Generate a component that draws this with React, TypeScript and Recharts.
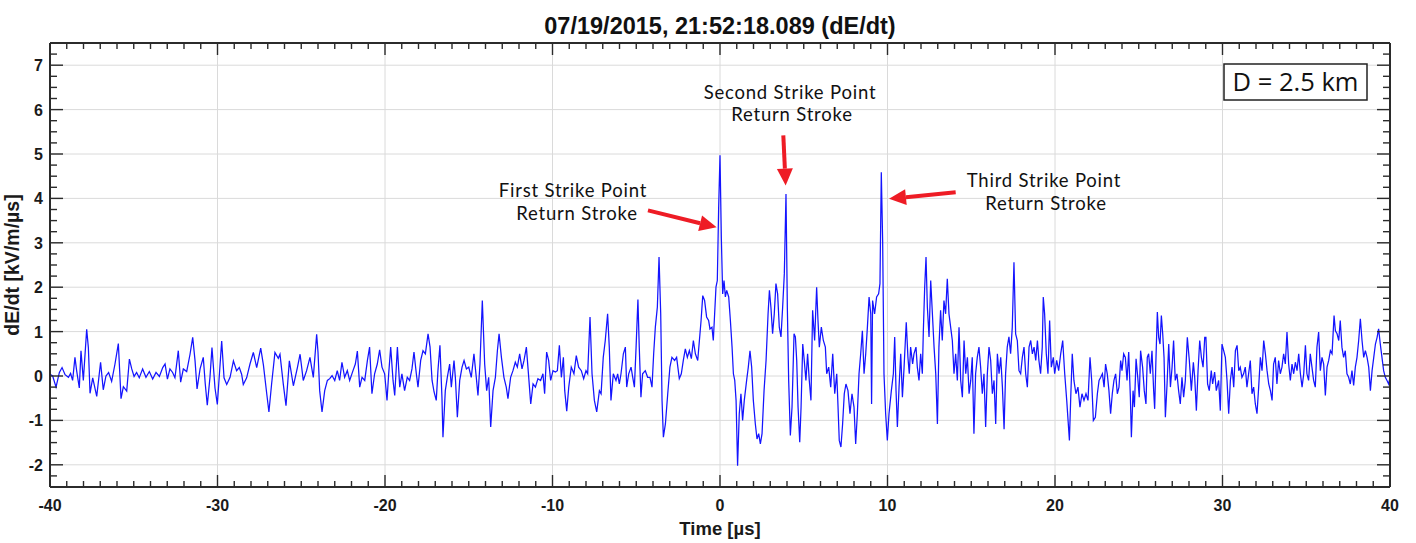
import { LineChart, Line, XAxis, YAxis, CartesianGrid, ReferenceLine } from "recharts"

// dE/dt waveform, [time µs, kV/m/µs], in five windows
const WIN_A: [number, number][] = [
  [-40, 0.04], [-39.84, 0], [-39.64, -0.25], [-39.44, 0.08], [-39.28, 0.19], [-39.1, 0.03], [-38.9, -0.03],
  [-38.77, 0.06], [-38.65, -0.1], [-38.51, 0.42], [-38.41, 0.12], [-38.25, -0.27], [-38.15, 0.57], [-38.01, -0.1],
  [-37.81, 1.05], [-37.71, 0.64], [-37.61, -0.39], [-37.45, -0.04], [-37.21, -0.46], [-36.98, 0.31], [-36.82, -0.31],
  [-36.66, 0], [-36.5, 0.08], [-36.32, -0.12], [-36.12, 0.27], [-35.92, 0.73], [-35.76, -0.51], [-35.62, -0.24],
  [-35.42, -0.34], [-35.26, 0.38], [-35.12, 0.16], [-34.98, -0.01], [-34.83, 0.08], [-34.67, -0.04], [-34.47, 0.16],
  [-34.27, -0.03], [-34.07, 0.1], [-33.87, -0.07], [-33.67, 0.08], [-33.47, -0.01], [-33.27, 0.19], [-33.13, 0.27],
  [-32.99, -0.07], [-32.84, 0.16], [-32.68, 0.08], [-32.54, -0.04], [-32.34, 0.57], [-32.2, -0.14], [-32.04, 0.16],
  [-31.84, 0.1], [-31.64, 0.49], [-31.48, 0.87], [-31.34, 0.34], [-31.22, -0.29], [-31.04, 0.16], [-30.85, 0.42],
  [-30.73, -0.18], [-30.61, -0.66], [-30.45, -0.03], [-30.33, 0.64], [-30.15, -0.27], [-30.01, -0.64], [-29.75, 0.79],
  [-29.61, -0.04], [-29.45, -0.19], [-29.25, -0.03], [-29.05, 0.34], [-28.86, 0.12], [-28.7, 0.19], [-28.56, 0.04],
  [-28.46, -0.19], [-28.26, -0.04], [-28.06, 0.27], [-27.86, 0.53], [-27.66, 0.19], [-27.42, 0.63], [-27.26, 0.25],
  [-27.06, -0.4], [-26.93, -0.81], [-26.77, -0.18], [-26.57, 0.53], [-26.37, 0.4], [-26.27, 0.49], [-26.07, -0.19],
  [-25.91, -0.67], [-25.71, 0.34], [-25.47, -0.22], [-25.23, 0.19], [-25.07, 0.49], [-24.88, -0.1], [-24.68, 0.12],
  [-24.48, 0.42], [-24.28, -0.03], [-24.08, 0.94],
]

const WIN_B: [number, number][] = [
  [-24.0, 0.54], [-23.9, -0.33], [-23.76, -0.81], [-23.6, -0.33], [-23.44, -0.1], [-23.3, -0.06], [-23.16, 0.01],
  [-23.0, -0.1], [-22.85, 0.12], [-22.71, -0.1], [-22.57, 0.31], [-22.41, -0.03], [-22.25, 0.12], [-22.11, -0.1],
  [-21.91, 0.12], [-21.77, 0.27], [-21.65, 0.56], [-21.51, -0.25], [-21.37, -0.03], [-21.21, -0.1], [-21.05, 0.35],
  [-20.92, 0.65], [-20.78, -0.4], [-20.62, 0.05], [-20.46, 0.27], [-20.32, 0.59], [-20.18, 0.2], [-20.02, 0.05],
  [-19.88, -0.55], [-19.78, 0.05], [-19.66, 0.65], [-19.52, -0.1], [-19.42, -0.44], [-19.26, 0.65], [-19.12, -0.25],
  [-18.99, 0.05], [-18.83, -0.33], [-18.67, -0.03], [-18.53, -0.1], [-18.39, 0.16], [-18.27, 0.54], [-18.13, 0.05],
  [-18.03, -0.25], [-17.87, 0.35], [-17.73, 0.57], [-17.59, 0.5], [-17.43, 0.95], [-17.31, 0.65], [-17.19, -0.1],
  [-17.07, -0.36], [-16.94, -0.55], [-16.84, 0.12], [-16.72, 0.69], [-16.6, -0.48], [-16.54, -1.38], [-16.4, -0.33],
  [-16.28, -0.03], [-16.14, 0.27], [-16.04, -0.25], [-15.88, 0.35], [-15.8, -0.03], [-15.68, -0.93], [-15.54, -0.1],
  [-15.4, 0.2], [-15.28, 0.35], [-15.14, 0.16], [-15.0, 0.2], [-14.85, -0.03], [-14.69, 0.5], [-14.55, -0.03],
  [-14.45, -0.44], [-14.33, 0.27], [-14.19, 1.7], [-14.05, 0.27], [-13.93, -0.33], [-13.81, -0.03], [-13.69, -1.15],
  [-13.55, -0.33], [-13.41, -0.03], [-13.29, 0.57], [-13.19, 0.95], [-13.05, 0.42], [-12.9, -0.03], [-12.76, -0.25],
  [-12.66, -0.51], [-12.5, -0.03], [-12.36, 0.12], [-12.22, 0.31], [-12.1, 0.2], [-11.96, 0.5], [-11.82, 0.16],
  [-11.7, 0.35], [-11.56, 0.65], [-11.42, -0.03], [-11.3, -0.63], [-11.16, -0.18], [-11.02, -0.25], [-10.87, -0.06],
  [-10.71, -0.1], [-10.57, 0.05], [-10.47, -0.4], [-10.35, 0.54], [-10.23, 0.35], [-10.11, -0.1], [-9.97, 0.12],
  [-9.83, 0.09], [-9.71, 0.12], [-9.59, 0.69], [-9.47, -0.03], [-9.35, 0.42], [-9.27, -0.33], [-9.15, -0.79],
  [-9.03, -0.25], [-8.88, 0.2], [-8.72, 0.05], [-8.58, 0.46], [-8.44, 0.2], [-8.28, 0.12], [-8.14, -0.06],
]

const WIN_C: [number, number][] = [
  [-8.0, 0.12], [-7.9, 0.05], [-7.76, 1.33], [-7.64, 0.05], [-7.5, -0.55], [-7.36, -0.81], [-7.2, -0.33],
  [-7.1, -0.4], [-6.97, 0.42], [-6.85, 0.8], [-6.71, 1.4], [-6.61, 0.65], [-6.51, -0.55], [-6.37, 0.05],
  [-6.21, -0.1], [-6.11, 0.05], [-6.01, -0.18], [-5.91, 0.05], [-5.77, 0.5], [-5.65, 0.65], [-5.57, -0.25],
  [-5.45, 0.05], [-5.31, 0.2], [-5.21, -0.03], [-5.11, -0.25], [-5.01, 0.65], [-4.9, 1.72], [-4.82, 0.65],
  [-4.72, -0.48], [-4.62, 0.05], [-4.46, 0.12], [-4.32, -0.03], [-4.18, -0.03], [-4.06, -0.25], [-3.96, 0.5],
  [-3.86, 1.1], [-3.74, 1.55], [-3.64, 2.68], [-3.54, 1.4], [-3.46, -0.55], [-3.38, -1.38], [-3.26, -1.08],
  [-3.12, -0.4], [-2.99, 0.2], [-2.87, 0.42], [-2.71, 0.35], [-2.59, 0.42], [-2.43, -0.06], [-2.31, 0.05],
  [-2.19, 0.35], [-2.07, 0.61], [-1.95, 0.42], [-1.83, 0.57], [-1.71, 0.39], [-1.59, 0.8], [-1.47, 0.5],
  [-1.33, 0.35], [-1.23, 0.8], [-1.13, 1.25], [-1.03, 1.81], [-0.92, 1.7], [-0.8, 1.33], [-0.68, 1.25],
  [-0.6, 1.06], [-0.48, 1.1], [-0.4, 0.8], [-0.32, 1.4], [-0.24, 2.0], [-0.16, 2.15], [-0.08, 3.8],
  [0.0, 4.97], [0.08, 3.1], [0.16, 1.85], [0.24, 2.15], [0.32, 1.78], [0.4, 1.93], [0.52, 1.78],
  [0.62, 1.25], [0.72, 0.65], [0.8, 0.05], [0.88, -0.1], [0.96, -0.55], [1.05, -2.02], [1.15, -0.85],
  [1.25, -0.4], [1.35, -1.0], [1.45, -0.55], [1.59, -0.1], [1.69, 0.2], [1.79, 0.57], [1.89, 0.2],
  [1.99, -0.55], [2.11, -1.08], [2.21, -1.42], [2.31, -1.3], [2.41, -1.53], [2.51, -1.3], [2.63, -0.33],
  [2.75, 0.35], [2.87, 1.4], [2.95, 1.93], [3.04, 1.55], [3.14, 0.95], [3.24, 1.4], [3.34, 2.08],
  [3.44, 1.85], [3.54, 1.1], [3.64, 0.88], [3.74, 1.55], [3.84, 2.3], [3.94, 4.1], [4.02, 1.55],
  [4.1, -0.1], [4.2, -1.34], [4.3, -0.7], [4.42, 0.95], [4.5, 0.88], [4.58, 0.35], [4.66, -0.7],
  [4.76, -1.49], [4.84, -0.7], [4.94, 0.72], [5.03, 0.35], [5.13, -0.1], [5.23, 0.5], [5.33, -0.1],
  [5.43, -0.55], [5.53, 1.48], [5.65, 0.8], [5.77, 2.0], [5.85, 1.25], [5.93, 0.65], [6.05, 1.1],
  [6.17, 0.8], [6.29, 0.65], [6.37, 0.05], [6.49, 0.2], [6.61, -0.25], [6.73, 0.5], [6.85, -0.4],
  [6.97, 0.05], [7.04, -0.63], [7.12, -1.45], [7.22, -1.6], [7.32, -1.08], [7.42, -0.4], [7.52, -0.18],
  [7.64, -0.33], [7.76, -0.85], [7.88, -0.4],
]

const WIN_D: [number, number][] = [
  [8.0, -0.7], [8.1, -1.53], [8.2, -0.85], [8.3, 0.05], [8.4, 0.5], [8.5, 1.02], [8.6, 0.05], [8.7, 0.5],
  [8.8, 1.1], [8.9, 1.78], [9.0, 1.4], [9.05, -0.63], [9.11, 1.7], [9.23, 1.4], [9.35, 1.78], [9.47, 1.85],
  [9.55, 2.08], [9.63, 4.59], [9.71, 3.05], [9.79, 0.05], [9.89, -0.85], [9.99, -1.45], [10.09, -0.85],
  [10.23, -0.33], [10.35, 0.05], [10.43, 0.88], [10.51, -0.33], [10.59, -1.15], [10.69, -0.25], [10.79, 0.5],
  [10.89, -0.48], [10.99, 0.2], [11.12, 1.21], [11.22, 0.42], [11.3, 0.05], [11.38, 0.65], [11.5, 0.27],
  [11.58, 0.5], [11.7, 0.65], [11.78, 0.2], [11.88, -0.1], [11.98, 0.5], [12.08, 0.05], [12.14, 1.02],
  [12.22, 2.0], [12.3, 2.68], [12.38, 1.55], [12.48, 0.88], [12.58, 2.15], [12.68, 1.4], [12.78, 0.65],
  [12.88, 0.05], [12.98, -1.08], [13.07, 0.65], [13.17, 1.48], [13.27, 0.8], [13.37, 1.7], [13.47, 1.4],
  [13.57, 2.19], [13.67, 1.4], [13.77, 1.1], [13.87, 0.8], [13.97, 0.05], [14.07, 0.5], [14.17, -0.1],
  [14.27, 1.1], [14.37, -0.1], [14.47, -0.48], [14.57, 0.8], [14.67, 0.05], [14.77, 0.42], [14.87, -0.4],
  [14.97, -0.1], [15.06, 0.42], [15.16, -1.3], [15.26, 0.05], [15.36, 0.42], [15.46, 0.65], [15.56, 0.2],
  [15.66, -0.4], [15.76, 0.05], [15.86, -1.15], [15.96, 0.05], [16.06, 0.65], [16.16, 0.35], [16.26, -0.4],
  [16.36, -0.1], [16.46, -1.08], [16.56, 0.5], [16.66, 0.05], [16.76, 0.42], [16.86, -0.25], [16.96, -1.2],
  [17.05, 0.05], [17.15, 0.65], [17.25, 0.88], [17.35, 0.5], [17.45, 1.1], [17.55, 2.56], [17.65, 0.95],
  [17.75, 0.8], [17.85, 0.12], [17.95, 0.05], [18.05, 0.42], [18.15, 0.65], [18.25, 0.05], [18.35, -0.25],
  [18.45, 0.65], [18.55, 0.8], [18.65, 0.5], [18.75, 0.65], [18.85, 0.35], [18.95, 0.8], [19.04, 0.35],
  [19.14, 0.05], [19.24, 0.65], [19.3, 1.78], [19.38, 1.4], [19.48, 0.5], [19.58, 0.05], [19.68, 1.25],
  [19.78, 0.2], [19.9, 0.42], [19.98, 0.05], [20.1, 0.35], [20.22, 0.12], [20.34, 0.5], [20.46, 0.8],
  [20.58, 0.05], [20.7, -0.55], [20.78, -1.0], [20.86, -1.45], [20.94, -0.48], [21.03, 0.5], [21.13, -0.1],
  [21.25, -0.4], [21.37, -0.25], [21.49, -0.7], [21.61, -0.4], [21.73, -0.55], [21.85, -0.4], [21.97, -0.55],
  [22.09, 0.42], [22.19, -0.1], [22.29, -1.0], [22.41, -0.93], [22.53, -0.4], [22.63, -0.1], [22.73, -0.03],
  [22.83, 0.05], [22.93, -0.25], [23.02, 0.27], [23.12, 0.05], [23.22, -0.33], [23.32, -0.85], [23.42, -0.4],
  [23.52, -0.1], [23.62, 0.05], [23.72, -0.4], [23.82, -0.25], [23.92, 0.35],
]

const WIN_E: [number, number][] = [
  [24.0, 0.12], [24.1, 0.5], [24.2, 0.42], [24.3, -0.1], [24.4, 0.54], [24.5, -0.48], [24.56, -1.38],
  [24.66, -0.33], [24.74, -0.7], [24.84, 0.39], [24.94, -0.03], [25.03, -0.48], [25.11, 0.57], [25.23, 0.2],
  [25.33, -0.33], [25.43, -0.63], [25.51, 0.42], [25.59, 0.5], [25.69, 0.05], [25.79, 0.57], [25.89, -0.33],
  [25.95, -0.74], [26.03, 0.42], [26.11, 1.44], [26.19, 0.87], [26.27, 0.72], [26.35, 1.36], [26.43, 0.95],
  [26.51, 0.42], [26.59, -0.93], [26.69, -0.18], [26.79, 0.72], [26.89, -0.25], [26.99, 0.2], [27.08, 0.8],
  [27.18, -0.1], [27.28, 0.05], [27.38, -0.33], [27.48, -0.63], [27.58, -0.03], [27.68, -0.48], [27.78, -0.1],
  [27.9, 0.87], [28.02, 0.35], [28.14, -0.33], [28.26, 0.31], [28.34, -0.03], [28.44, -0.78], [28.54, 0.12],
  [28.64, 0.8], [28.74, 0.42], [28.84, 0.2], [28.94, 0.87], [29.01, 0.87], [29.11, -0.18], [29.21, -0.33],
  [29.33, 0.12], [29.41, -0.18], [29.53, 0.09], [29.63, -0.33], [29.77, -0.1], [29.87, -0.78], [29.97, 0.72],
  [30.07, 0.57], [30.17, 0.42], [30.27, -0.1], [30.37, -0.85], [30.47, -0.1], [30.57, 0.2], [30.67, -0.25],
  [30.77, 0.57], [30.87, 0.69], [30.97, 0.12], [31.06, 0.2], [31.16, -0.03], [31.26, 0.05], [31.36, 0.2],
  [31.46, -0.25], [31.56, 0.05], [31.66, 0.35], [31.76, -0.4], [31.86, -0.25], [31.96, -0.63], [32.06, -0.85],
  [32.16, -0.25], [32.26, 0.42], [32.36, 0.12], [32.46, 0.8], [32.56, 0.5], [32.66, 0.12], [32.76, -0.18],
  [32.86, -0.33], [32.96, -0.55], [33.05, 0.27], [33.15, 0.42], [33.25, -0.18], [33.35, 0.35], [33.45, 0.05],
  [33.55, 0.2], [33.65, 0.5], [33.75, 0.27], [33.85, 0.99], [33.95, 0.27], [34.05, -0.1], [34.15, 0.27],
  [34.25, 0.05], [34.35, 0.31], [34.45, 0.12], [34.55, 0.5], [34.65, 0.05], [34.75, -0.25], [34.85, 0.05],
  [34.95, 0.69], [35.04, 0.05], [35.14, -0.1], [35.24, 0.5], [35.34, 0.2], [35.44, -0.1], [35.54, -0.25],
  [35.64, 0.65], [35.74, 0.99], [35.84, 0.12], [35.94, 0.42], [36.04, 0.27], [36.14, -0.44], [36.24, 0.2],
  [36.34, 0.35], [36.44, 0.57], [36.54, 0.5], [36.66, 1.36], [36.74, 1.02], [36.84, 0.95], [36.94, 0.8],
  [37.03, 1.25], [37.13, 0.65], [37.23, 0.42], [37.33, 0.57], [37.43, 0.05], [37.53, -0.03], [37.63, -0.18],
  [37.73, 0.12], [37.83, -0.21], [37.93, 0.2], [38.03, 0.42], [38.13, 0.8], [38.23, 1.29], [38.33, 0.8],
  [38.43, 0.42], [38.53, 0.57], [38.63, 0.42], [38.73, 0.2], [38.83, -0.33], [38.93, 0.12], [39.03, 0.42],
  [39.13, 0.72], [39.23, 0.87], [39.32, 1.06], [39.42, 0.72], [39.52, 0.42], [39.62, 0.12], [39.72, -0.03],
  [39.82, -0.1], [39.92, -0.18], [40.0, -0.03],
]

const X_TICKS = Array.from({ length: 81 }, (_, i) => i - 40)
const Y_TICKS = Array.from({ length: 41 }, (_, i) => -2.5 + i * 0.25)
const X_GRID = [-30, -20, -10, 0, 10, 20, 30]
const Y_GRID = [-2, -1, 0, 1, 2, 3, 4, 5, 6, 7]

// arrows: [tail, head] in data coords
const ARROWS: [number, number, number, number][] = [
  [-4.3, 3.73, -0.2, 3.35],
  [3.78, 5.42, 3.92, 4.29],
  [14.07, 4.14, 10.09, 3.99],
]

const data = [...WIN_A, ...WIN_B, ...WIN_C, ...WIN_D, ...WIN_E].map(([t, v]) => ({ t, v }))

const AX = "#2b2b2b"
const RED = "#ee1c25"
const TICK_FONT = { fontFamily: "Liberation Sans, Arial, sans-serif", fontWeight: 700, fontSize: 16, fill: "#1a1a1a" }

function BottomTick(props: any) {
  const { x, y, payload } = props
  const major = payload.value % 10 === 0
  return (
    <g>
      <line x1={x} x2={x} y1={y} y2={y - (major ? 12 : 6)} stroke={AX} strokeWidth={1.4} />
      {major && (
        <text x={x} y={y + 24} textAnchor="middle" {...TICK_FONT}>
          {payload.value}
        </text>
      )}
    </g>
  )
}

function TopTick(props: any) {
  const { x, y, payload } = props
  const major = payload.value % 10 === 0
  return <line x1={x} x2={x} y1={y} y2={y + (major ? 12 : 6)} stroke={AX} strokeWidth={1.4} />
}

function LeftTick(props: any) {
  const { x, y, payload } = props
  const major = Number.isInteger(payload.value)
  return (
    <g>
      <line x1={x} x2={x + (major ? 13 : 7)} y1={y} y2={y} stroke={AX} strokeWidth={1.4} />
      {major && (
        <text x={x - 7} y={y + 6} textAnchor="end" {...TICK_FONT}>
          {payload.value}
        </text>
      )}
    </g>
  )
}

function RightTick(props: any) {
  const { x, y, payload } = props
  const major = Number.isInteger(payload.value)
  return <line x1={x} x2={x - (major ? 13 : 7)} y1={y} y2={y} stroke={AX} strokeWidth={1.4} />
}

function Arrow(p: any) {
  const { x1, y1, x2, y2 } = p
  const dx = x2 - x1
  const dy = y2 - y1
  const len = Math.hypot(dx, dy) || 1
  const ux = dx / len
  const uy = dy / len
  const hl = 17
  const hw = 8
  const bx = x2 - ux * hl
  const by = y2 - uy * hl
  return (
    <g>
      <line x1={x1} y1={y1} x2={bx} y2={by} stroke={RED} strokeWidth={4} />
      <polygon points={`${x2},${y2} ${bx - uy * hw},${by + ux * hw} ${bx + uy * hw},${by - ux * hw}`} fill={RED} />
    </g>
  )
}

const NOTE = {
  fontFamily: "Lato, Open Sans, sans-serif",
  fontSize: 18.5,
  letterSpacing: 0.8,
  fill: "#111",
  textAnchor: "middle" as const,
}

// two-line callout
function Note({ x, y, dx2 = 0, lines }: { x: number; y: number; dx2?: number; lines: [string, string] }) {
  return (
    <text {...NOTE}>
      <tspan x={x} y={y}>{lines[0]}</tspan>
      <tspan x={x + dx2} y={y + 22.5}>{lines[1]}</tspan>
    </text>
  )
}

export default function App() {
  return (
    <div style={{ position: "absolute", left: 0, top: 0, width: 1416, height: 543, background: "#fff" }}>
      <LineChart width={1416} height={543} data={data} margin={{ top: 42, right: 25, bottom: 0, left: 0 }}>
        <CartesianGrid
          xAxisId="b"
          yAxisId="l"
          stroke="#dadada"
          verticalValues={X_GRID}
          horizontalValues={Y_GRID}
        />
        <XAxis
          xAxisId="b"
          type="number"
          dataKey="t"
          domain={[-40, 40]}
          ticks={X_TICKS}
          interval={0}
          tickSize={0}
          tickMargin={0}
          tick={<BottomTick />}
          height={56}
          axisLine={{ stroke: AX, strokeWidth: 2 }}
          allowDataOverflow
          label={{
            content: (p: any) => (
              <text
                x={p.viewBox.x + p.viewBox.width / 2}
                y={p.viewBox.y + 48}
                textAnchor="middle"
                {...TICK_FONT}
                fontSize={18.5}
              >
                Time [µs]
              </text>
            ),
          }}
        />
        <XAxis
          xAxisId="t"
          orientation="top"
          type="number"
          dataKey="t"
          domain={[-40, 40]}
          ticks={X_TICKS}
          interval={0}
          tickSize={0}
          tickMargin={0}
          tick={<TopTick />}
          height={1}
          axisLine={{ stroke: AX, strokeWidth: 2 }}
          allowDataOverflow
        />
        <YAxis
          yAxisId="l"
          type="number"
          domain={[-2.5, 7.5]}
          ticks={Y_TICKS}
          interval={0}
          tickSize={0}
          tickMargin={0}
          tick={<LeftTick />}
          width={50}
          axisLine={{ stroke: AX, strokeWidth: 2 }}
          allowDataOverflow
          label={{
            content: (p: any) => {
              const cx = 19
              const cy = p.viewBox.y + p.viewBox.height / 2
              return (
                <text x={cx} y={cy} textAnchor="middle" transform={`rotate(-90 ${cx} ${cy})`} {...TICK_FONT} fontSize={19.5}>
                  dE/dt [kV/m/µs]
                </text>
              )
            },
          }}
        />
        <YAxis
          yAxisId="r"
          orientation="right"
          type="number"
          domain={[-2.5, 7.5]}
          ticks={Y_TICKS}
          interval={0}
          tickSize={0}
          tickMargin={0}
          tick={<RightTick />}
          width={1}
          axisLine={{ stroke: AX, strokeWidth: 2 }}
          allowDataOverflow
        />
        <Line
          xAxisId="b"
          yAxisId="l"
          type="linear"
          dataKey="v"
          stroke="#1414ff"
          strokeWidth={1.25}
          dot={false}
          isAnimationActive={false}
        />
        {ARROWS.map(([x1, y1, x2, y2], i) => (
          <ReferenceLine
            key={i}
            xAxisId="b"
            yAxisId="l"
            segment={[{ x: x1, y: y1 }, { x: x2, y: y2 }]}
            shape={(p: any) => <Arrow {...p} />}
          />
        ))}
      </LineChart>
      <svg width={1416} height={543} style={{ position: "absolute", left: 0, top: 0, pointerEvents: "none" }}>
        <text x={720} y={34} textAnchor="middle" fontFamily="Liberation Sans, Arial, sans-serif" fontWeight={700} fontSize={23.5} fill="#111">
          07/19/2015, 21:52:18.089 (dE/dt)
        </text>
        <Note x={573} y={197} dx2={4} lines={["First Strike Point", "Return Stroke"]} />
        <Note x={790} y={98.5} dx2={2} lines={["Second Strike Point", "Return Stroke"]} />
        <Note x={1044} y={187} dx2={2} lines={["Third Strike Point", "Return Stroke"]} />
        <rect x={1224} y={64} width={143} height={36} fill="#fff" stroke="#222" strokeWidth={1.5} />
        <text x={1295.5} y={91} textAnchor="middle" fontFamily="Open Sans, sans-serif" fontSize={25.5} fill="#111">
          D = 2.5 km
        </text>
      </svg>
    </div>
  )
}
